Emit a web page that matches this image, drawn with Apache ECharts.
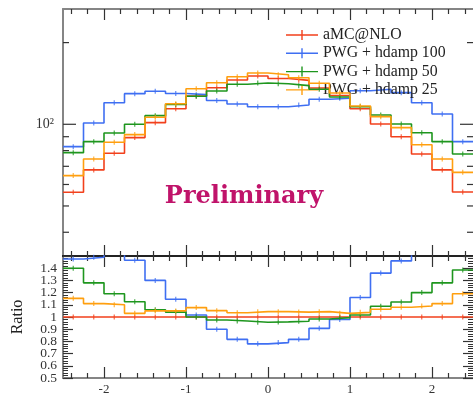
<!DOCTYPE html>
<html>
<head>
<meta charset="utf-8">
<script src="https://cdn.jsdelivr.net/npm/echarts@6/dist/echarts.min.js"></script>
<style>html,body{margin:0;padding:0;background:#fff;}#c{width:473px;height:398px;}</style>
</head>
<body>
<div id="c"></div>
<script>
// ---- data ----
const binEdges = [-2.5,-2.25,-2,-1.75,-1.5,-1.25,-1,-0.75,-0.5,-0.25,0,0.25,0.5,0.75,1,1.25,1.5,1.75,2,2.25,2.5];
const binCenters = [-2.375,-2.125,-1.875,-1.625,-1.375,-1.125,-0.875,-0.625,-0.375,-0.125,0.125,0.375,0.625,0.875,1.125,1.375,1.625,1.875,2.125,2.375];

const seriesNames = ['aMC@NLO', 'PWG + hdamp 100', 'PWG + hdamp 50', 'PWG + hdamp 25'];

const amcnlo   = [56.2,67.9,78.2,89.3,101.4,114.1,127.1,136.4,145.6,150.6,147.5,145.2,136.1,127.7,114.1,100.3,90.0,77.7,67.9,56.3];
const hdamp100 = [82.7,101.1,120.1,129.7,132.3,129.9,128.6,122.4,118.8,116.1,116.1,117.8,123.6,124.7,133.0,134.6,130.8,120.1,109.1,86.3];
const hdamp50  = [78.6,86.3,92.9,100.0,107.6,118.3,126.9,132.7,140.4,142.0,141.1,138.8,134.6,126.1,116.1,108.2,100.3,93.1,86.3,77.7];
const hdamp25  = [64.7,74.5,85.9,91.6,106.1,119.0,135.2,142.3,149.6,154.5,152.3,148.5,141.6,130.4,116.8,106.7,97.2,84.1,74.5,66.5];

const ratioAmc = [1,1,1,1,1,1,1,1,1,1,1,1,1,1,1,1,1,1,1,1];
const ratio100 = [1.475,1.49,1.54,1.465,1.30,1.145,1.016,0.90,0.817,0.78,0.79,0.817,0.907,0.98,1.16,1.36,1.46,1.55,1.61,1.53];
const ratio50  = [1.40,1.28,1.19,1.125,1.06,1.04,1.00,0.975,0.967,0.957,0.96,0.965,0.984,0.995,1.016,1.088,1.123,1.20,1.28,1.385];
const ratio25  = [1.153,1.11,1.10,1.03,1.05,1.05,1.077,1.052,1.035,1.044,1.044,1.04,1.044,1.03,1.038,1.063,1.08,1.09,1.11,1.19];

const xMajorTicks = [-2,-1,0,1,2];
const xMinorTicks = [-2.4,-2.2,-1.8,-1.6,-1.4,-1.2,-0.8,-0.6,-0.4,-0.2,0.2,0.4,0.6,0.8,1.2,1.4,1.6,1.8,2.2,2.4];
const xTickLabels = [-2,-1,0,1,2];
const ratioTickLabelsA = [0.5,0.7,0.9,1.1,1.3];
const ratioTickLabelsB = [0.6,0.8,1,1.2,1.4];
const yTopMajorTicks = [100];
const yTopMinorTicks = [40,50,60,70,80,90,200];
const xMin = -2.5, xMax = 2.5;
const yTopMin = 32.7, yTopMax = 266;
const ratioMin = 0.5, ratioMax = 1.5;

// ---- style ----
const colors = ['#f2401c', '#3f6ff2', '#1e961e', '#ff9f0f'];
const FONT = 'Liberation Serif';
const frameGray = '#858585';
const tickCol = '#333';

const topVals = [amcnlo, hdamp100, hdamp50, hdamp25];
const ratioVals = [ratioAmc, ratio100, ratio50, ratio25];

function stepData(vals) {
  return binEdges.map((e, i) => [e, vals[Math.min(i, vals.length - 1)]]);
}
function centerData(vals) {
  return binCenters.map((c, i) => [c, vals[i]]);
}

function xAx(grid, pos, major, lineColor, showLabel) {
  return {
    type: 'value', gridIndex: grid, position: pos, min: xMin, max: xMax,
    axisLine: { show: !!lineColor, onZero: false, lineStyle: { color: lineColor || '#000', width: 2 } },
    axisTick: { show: true, inside: true, length: major ? 11 : 5, customValues: major ? xMajorTicks : xMinorTicks,
                lineStyle: { color: tickCol, width: 1.2 } },
    axisLabel: showLabel ? { show: true, customValues: xTickLabels, margin: 5, fontFamily: FONT, fontSize: 13, color: '#333' } : { show: false },
    splitLine: { show: false }
  };
}

const xAxes = [
  xAx(0, 'bottom', true, '#222', false),
  xAx(0, 'bottom', false, null, false),
  xAx(0, 'top', true, frameGray, false),
  xAx(0, 'top', false, null, false),
  xAx(1, 'top', true, '#222', false),
  xAx(1, 'top', false, null, false),
  xAx(1, 'bottom', true, frameGray, true),
  xAx(1, 'bottom', false, null, false)
];

const ratioLabelStyle = { show: true, hideOverlap: false, showMinLabel: true, showMaxLabel: true,
                          margin: 6, fontFamily: FONT, fontSize: 13.5, color: '#333' };

const yAxes = [
  {
    type: 'log', logBase: 10, gridIndex: 0, min: yTopMin, max: yTopMax,
    axisLine: { show: true, onZero: false, lineStyle: { color: frameGray, width: 2 } },
    axisTick: { show: false },
    axisLabel: {
      show: true, margin: 9, fontFamily: FONT, fontSize: 14, color: '#333',
      showMinLabel: false, showMaxLabel: false,
      formatter: v => (Math.abs(v - 100) < 1e-6 ? '10\u00B2' : '')
    },
    splitLine: { show: false }
  },
  {
    type: 'value', gridIndex: 1, min: ratioMin, max: ratioMax, interval: 0.1,
    name: 'Ratio', nameLocation: 'middle', nameRotate: 90, nameGap: 37,
    nameTextStyle: { fontFamily: FONT, fontSize: 16, color: '#222' },
    axisLine: { show: true, onZero: false, lineStyle: { color: frameGray, width: 2 } },
    axisTick: { show: true, inside: true, length: 10, lineStyle: { color: tickCol, width: 1.2 } },
    minorTick: { show: true, splitNumber: 5, length: 5, lineStyle: { color: tickCol, width: 1 } },
    axisLabel: Object.assign({ customValues: ratioTickLabelsA }, ratioLabelStyle),
    splitLine: { show: false }, minorSplitLine: { show: false }
  },
  {
    type: 'value', gridIndex: 1, position: 'right', min: ratioMin, max: ratioMax, interval: 0.1,
    axisLine: { show: false, onZero: false },
    axisTick: { show: true, inside: true, length: 10, lineStyle: { color: tickCol, width: 1.2 } },
    minorTick: { show: true, splitNumber: 5, length: 5, lineStyle: { color: tickCol, width: 1 } },
    axisLabel: { show: false },
    splitLine: { show: false }
  },
  {
    type: 'value', gridIndex: 1, position: 'left', min: ratioMin, max: ratioMax, interval: 0.1,
    axisLine: { show: false, onZero: false },
    axisTick: { show: false },
    axisLabel: Object.assign({ customValues: ratioTickLabelsB }, ratioLabelStyle),
    splitLine: { show: false }
  }
];

function logTickSeries(vals, len) {
  return {
    type: 'custom', xAxisIndex: 0, yAxisIndex: 0, silent: true, z: 5,
    data: vals.map(v => [0, v]),
    encode: { x: 0, y: 1 },
    renderItem: function (params, api) {
      const v = api.value(1);
      const pl = api.coord([xMin, v]);
      const pr = api.coord([xMax, v]);
      return {
        type: 'group',
        children: [
          { type: 'line', shape: { x1: pl[0], y1: pl[1], x2: pl[0] + len, y2: pl[1] }, style: { stroke: tickCol, lineWidth: 1.2 } },
          { type: 'line', shape: { x1: pr[0] - len, y1: pr[1], x2: pr[0], y2: pr[1] }, style: { stroke: tickCol, lineWidth: 1.2 } }
        ]
      };
    }
  };
}

const series = [];
for (let k = 0; k < 4; k++) {
  series.push({
    name: seriesNames[k], type: 'line', xAxisIndex: 0, yAxisIndex: 0, step: 'end',
    data: stepData(topVals[k]), showSymbol: false, symbol: 'none',
    lineStyle: { color: colors[k], width: 1.6 }, itemStyle: { color: colors[k] },
    z: 2 + k
  });
  series.push({
    name: seriesNames[k] + ' err', type: 'scatter', xAxisIndex: 0, yAxisIndex: 0,
    data: centerData(topVals[k]), symbol: 'rect', symbolSize: [1.2, 5],
    itemStyle: { color: colors[k] }, z: 2 + k
  });
  series.push({
    name: seriesNames[k] + ' ratio', type: 'line', xAxisIndex: 4, yAxisIndex: 1, step: 'end',
    data: stepData(ratioVals[k]), showSymbol: false, symbol: 'none',
    lineStyle: { color: colors[k], width: 1.6 }, itemStyle: { color: colors[k] },
    z: 2 + k
  });
  series.push({
    name: seriesNames[k] + ' ratio err', type: 'scatter', xAxisIndex: 4, yAxisIndex: 1,
    data: centerData(ratioVals[k]), symbol: 'rect', symbolSize: [1.2, 5],
    itemStyle: { color: colors[k] }, z: 2 + k
  });
}
series.push(logTickSeries(yTopMajorTicks, 13));
series.push(logTickSeries(yTopMinorTicks, 6));

const legendIcon = 'path://M0,4.3h32v1.4h-32z M15.3,0h1.4v10h-1.4z';

const option = {
  animation: false,
  backgroundColor: '#fff',
  grid: [
    { left: 63, top: 9, width: 410.5, height: 247 },
    { left: 63, top: 256, width: 410.5, height: 122 }
  ],
  xAxis: xAxes,
  yAxis: yAxes,
  legend: {
    orient: 'vertical', left: 281, top: 22, itemWidth: 32, itemHeight: 10, itemGap: 2.3,
    data: seriesNames.map(n => ({ name: n, icon: legendIcon })),
    itemStyle: { borderWidth: 0 },
    textStyle: { fontFamily: FONT, fontSize: 15.8, color: '#222', lineHeight: 16 },
    selectedMode: false
  },
  graphic: [
    {
      type: 'text', x: 244, y: 196.5, z: 10,
      style: { text: 'Preliminary', fill: '#c0136a', font: 'bold 24px "DejaVu Serif"', textAlign: 'center', verticalAlign: 'middle' }
    }
  ],
  series: series
};

const chart = echarts.init(document.getElementById('c'), null, { renderer: 'canvas' });
chart.setOption(option);
</script>
</body>
</html>
